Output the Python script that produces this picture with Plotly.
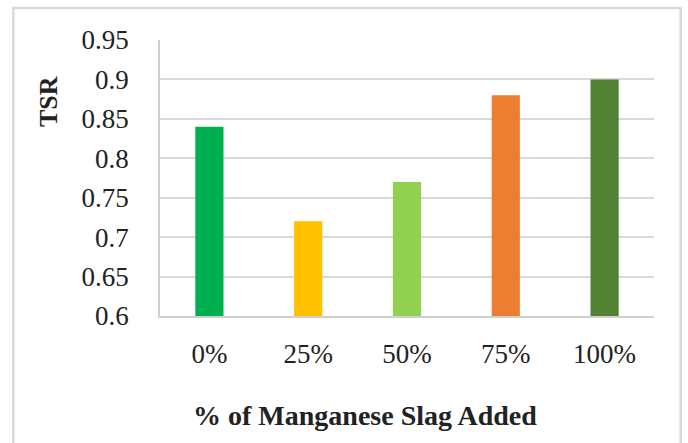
import plotly.graph_objects as go

# values
categories = ["0%", "25%", "50%", "75%", "100%"]
tsr = [0.84, 0.72, 0.77, 0.88, 0.90]
bar_colors = ["#00B050", "#FFC000", "#92D050", "#ED7D31", "#548235"]
y_ticks = [0.6, 0.65, 0.7, 0.75, 0.8, 0.85, 0.9, 0.95]
y_tick_text = ["0.6", "0.65", "0.7", "0.75", "0.8", "0.85", "0.9", "0.95"]

fig = go.Figure(go.Bar(
    x=categories, y=tsr,
    marker=dict(color=bar_colors, line=dict(width=0)),
    width=0.285,
))

font_family = "Liberation Serif"

fig.update_layout(
    width=688, height=443,
    margin=dict(l=160, r=34, t=40, b=127, autoexpand=False),
    paper_bgcolor="white", plot_bgcolor="white",
    showlegend=False,
    font=dict(family=font_family, size=27, color="#222222"),
    xaxis=dict(
        showgrid=False, showline=True, linecolor="#d0d0d0", linewidth=1.5,
        ticks="", ticklabelstandoff=13,
        tickfont=dict(size=27),
    ),
    yaxis=dict(
        range=[0.6, 0.95], tickvals=y_ticks, ticktext=y_tick_text,
        showgrid=True, gridcolor="#d9d9d9", gridwidth=1.5,
        showline=True, linecolor="#d0d0d0", linewidth=1.5,
        zeroline=False, ticks="", ticklabelstandoff=24,
        tickfont=dict(size=27),
    ),
    annotations=[
        dict(text="<b>% of Manganese Slag Added</b>", xref="paper", yref="paper",
             x=0.415, y=-0.362, xanchor="center", yanchor="middle",
             showarrow=False, font=dict(size=28)),
        dict(text="<b>TSR</b>", xref="paper", yref="paper", textangle=-90,
             x=-0.2267, y=0.775, xanchor="center", yanchor="middle",
             showarrow=False, font=dict(size=26)),
    ],
    shapes=[dict(
        type="rect", xref="paper", yref="paper",
        x0=-0.297, x1=1.054, y0=-0.6, y1=1.116,
        line=dict(color="#d9d9d9", width=2.5), fillcolor="rgba(0,0,0,0)",
        layer="below",
    )],
)

fig.write_html("out.html", config={"displayModeBar": False},
               post_script="document.body.style.margin='0px';")
